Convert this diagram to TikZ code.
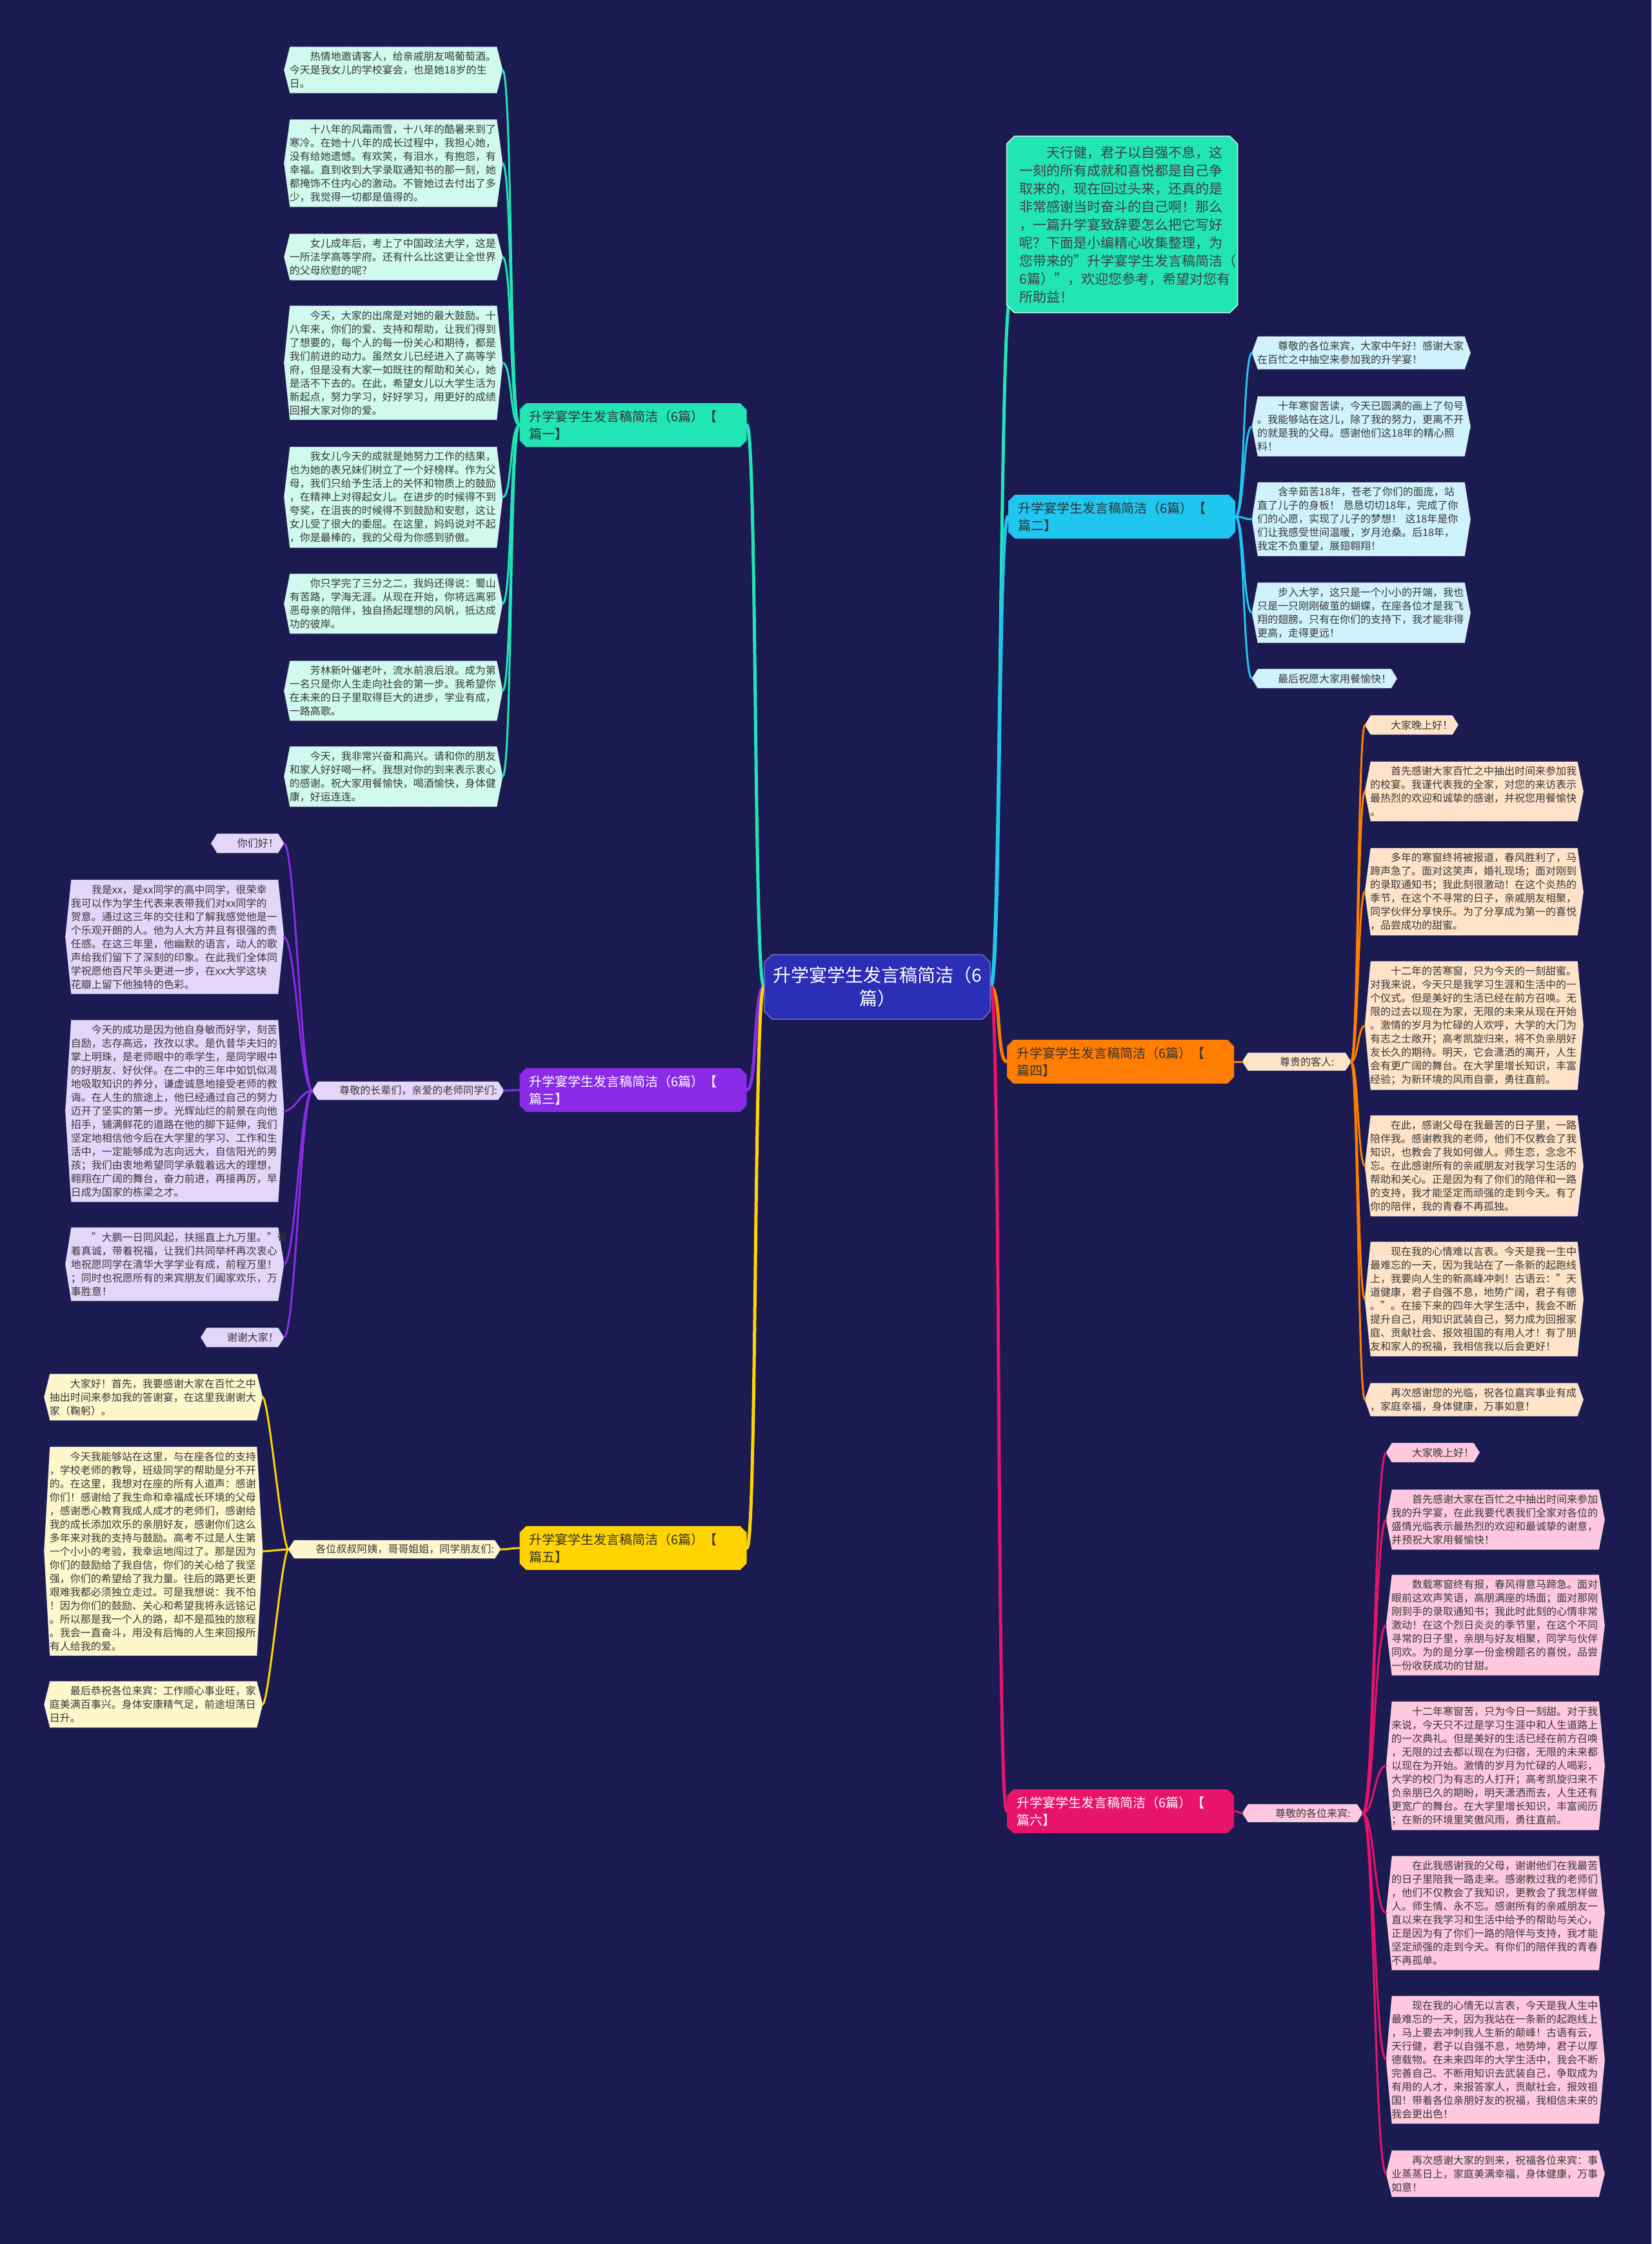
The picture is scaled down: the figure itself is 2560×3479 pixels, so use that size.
\documentclass[tikz,border=0pt]{standalone}
\usepackage{fontspec}
\setmainfont{Noto Sans CJK SC}
\usetikzlibrary{shapes.misc}
\pgfdeclarelayer{bg}
\pgfdeclarelayer{back}
\pgfsetlayers{bg,back,main}
\definecolor{bgc}{HTML}{1B1B52}
\definecolor{cenc}{HTML}{2B2FB5}
\definecolor{tealc}{HTML}{22E5B5}
\definecolor{leafa}{HTML}{D0FAEE}
\definecolor{cyanc}{HTML}{1FC6F0}
\definecolor{leafb}{HTML}{CFF2FD}
\definecolor{purpc}{HTML}{8A2BE8}
\definecolor{leafc}{HTML}{E4D6FA}
\definecolor{yelc}{HTML}{FFD400}
\definecolor{leafe}{HTML}{FFF7CC}
\definecolor{orgc}{HTML}{FF7D00}
\definecolor{leafd}{HTML}{FFE3C8}
\definecolor{magc}{HTML}{E8136B}
\definecolor{leaff}{HTML}{FFC8DE}
\newcommand\ind{\hspace*{2em}}
\newcommand\hexbg[2]{%
  \begin{pgfonlayer}{back}
    \path[#2] (#1.west) -- ([xshift=9pt]#1.north west) -- ([xshift=-9pt]#1.north east)
      -- (#1.east) -- ([xshift=-9pt]#1.south east) -- ([xshift=9pt]#1.south west) -- cycle;
  \end{pgfonlayer}}
\tikzset{
  leafbox/.style={font=\fontsize{16}{21}\selectfont, text=black!78, inner xsep=8pt, inner ysep=7pt, align=left},
  longbox/.style={text width=322pt},
  hexfill/.style={fill=#1, draw=white, densely dotted, line width=1pt},
  branchbox/.style={chamfered rectangle, chamfered rectangle xsep=5pt, chamfered rectangle ysep=5pt,
    font=\fontsize{20}{27}\selectfont, align=left, text width=322pt, inner xsep=10pt, inner ysep=6pt,
    minimum height=66pt, fill=#1},
  centerbox/.style={chamfered rectangle, chamfered rectangle xsep=6pt, chamfered rectangle ysep=6pt,
    fill=cenc, draw=cenc!70!white, line width=1.5pt, text=white, font=\fontsize{28}{36}\selectfont,
    align=center, minimum width=350pt, minimum height=100pt},
  introbox/.style={chamfered rectangle, chamfered rectangle xsep=6pt, chamfered rectangle ysep=6pt,
    fill=tealc, draw=white!70!tealc, line width=1.5pt, text=black!75, font=\fontsize{21}{28}\selectfont,
    align=left, text width=318pt, inner xsep=14pt, inner ysep=9pt},
  midbox/.style={font=\fontsize{16}{21}\selectfont, text=black!78, inner xsep=10pt, inner ysep=6pt},
  mainline/.style={line width=5pt, line cap=round},
  subline/.style={line width=3pt, line cap=round},
}
\begin{document}
\begin{tikzpicture}[x=1pt,y=-1pt]
\useasboundingbox (0,0) rectangle (2560,3479);
\begin{pgfonlayer}{bg}
\fill[bgc] (0,0) rectangle (2560,3479);
\end{pgfonlayer}

% center
\node[centerbox] (cen) at (1360,1530) {升学宴学生发言稿简洁（6\\篇）};

% intro
\node[introbox] (intro) at (1739.5,348) {\ind 天行健，君子以自强不息，这\\一刻的所有成就和喜悦都是自己争\\取来的，现在回过头来，还真的是\\非常感谢当时奋斗的自己啊！那么\\，一篇升学宴致辞要怎么把它写好\\呢？下面是小编精心收集整理，为\\您带来的"升学宴学生发言稿简洁（\\6篇）"，欢迎您参考，希望对您有\\所助益！};
\coordinate (introin) at ([yshift=16pt]intro.south west);

% branches
\node[branchbox=tealc, text=black!80] (b1) at (981.5,659) {升学宴学生发言稿简洁（6篇）【\\篇一】};
\node[branchbox=purpc, text=white] (b3) at (981.5,1690) {升学宴学生发言稿简洁（6篇）【\\篇三】};
\node[branchbox=yelc, text=black!80] (b5) at (981.5,2400) {升学宴学生发言稿简洁（6篇）【\\篇五】};
\node[branchbox=cyanc, text=black!80] (b2) at (1739,801) {升学宴学生发言稿简洁（6篇）【\\篇二】};
\node[branchbox=orgc, text=black!80] (b4) at (1737,1646) {升学宴学生发言稿简洁（6篇）【\\篇四】};
\node[branchbox=magc, text=white] (b6) at (1737,2808) {升学宴学生发言稿简洁（6篇）【\\篇六】};

% mid labels
\node[midbox, anchor=east] (m3) at (781,1691) {\ind 尊敬的长辈们，亲爱的老师同学们:}; \hexbg{m3}{hexfill=leafc}
\node[midbox, anchor=east] (m5) at (776,2402) {\ind 各位叔叔阿姨，哥哥姐姐，同学朋友们:}; \hexbg{m5}{hexfill=leafe}
\node[midbox, anchor=west, minimum width=168pt] (m4) at (1926,1646) {\ind 尊贵的客人:}; \hexbg{m4}{hexfill=leafd}
\node[midbox, anchor=west, minimum width=186pt] (m6) at (1926,2811) {\ind 尊敬的各位来宾:}; \hexbg{m6}{hexfill=leaff}

% branch 1 leaves
\node[leafbox, longbox, anchor=east] (l1) at (779,108.5) {\ind 热情地邀请客人，给亲戚朋友喝葡萄酒。\\今天是我女儿的学校宴会，也是她18岁的生\\日。}; \hexbg{l1}{hexfill=leafa}
\node[leafbox, longbox, anchor=east] (l2) at (779,253) {\ind 十八年的风霜雨雪，十八年的酷暑来到了\\寒冷。在她十八年的成长过程中，我担心她，\\没有给她遗憾。有欢笑，有泪水，有抱怨，有\\幸福。直到收到大学录取通知书的那一刻，她\\都掩饰不住内心的激动。不管她过去付出了多\\少，我觉得一切都是值得的。}; \hexbg{l2}{hexfill=leafa}
\node[leafbox, longbox, anchor=east] (l3) at (779,398.5) {\ind 女儿成年后，考上了中国政法大学，这是\\一所法学高等学府。还有什么比这更让全世界\\的父母欣慰的呢？}; \hexbg{l3}{hexfill=leafa}
\node[leafbox, longbox, anchor=east] (l4) at (779,562.5) {\ind 今天，大家的出席是对她的最大鼓励。十\\八年来，你们的爱、支持和帮助，让我们得到\\了想要的，每个人的每一份关心和期待，都是\\我们前进的动力。虽然女儿已经进入了高等学\\府，但是没有大家一如既往的帮助和关心，她\\是活不下去的。在此，希望女儿以大学生活为\\新起点，努力学习，好好学习，用更好的成绩\\回报大家对你的爱。}; \hexbg{l4}{hexfill=leafa}
\node[leafbox, longbox, anchor=east] (l5) at (779,771) {\ind 我女儿今天的成就是她努力工作的结果，\\也为她的表兄妹们树立了一个好榜样。作为父\\母，我们只给予生活上的关怀和物质上的鼓励\\，在精神上对得起女儿。在进步的时候得不到\\夸奖，在沮丧的时候得不到鼓励和安慰，这让\\女儿受了很大的委屈。在这里，妈妈说对不起\\，你是最棒的，我的父母为你感到骄傲。}; \hexbg{l5}{hexfill=leafa}
\node[leafbox, longbox, anchor=east] (l6) at (779,936) {\ind 你只学完了三分之二，我妈还得说：蜀山\\有苦路，学海无涯。从现在开始，你将远离邪\\恶母亲的陪伴，独自扬起理想的风帆，抵达成\\功的彼岸。}; \hexbg{l6}{hexfill=leafa}
\node[leafbox, longbox, anchor=east] (l7) at (779,1071) {\ind 芳林新叶催老叶，流水前浪后浪。成为第\\一名只是你人生走向社会的第一步。我希望你\\在未来的日子里取得巨大的进步，学业有成，\\一路高歌。}; \hexbg{l7}{hexfill=leafa}
\node[leafbox, longbox, anchor=east] (l8) at (779,1204) {\ind 今天，我非常兴奋和高兴。请和你的朋友\\和家人好好喝一杯。我想对你的到来表示衷心\\的感谢。祝大家用餐愉快，喝酒愉快，身体健\\康，好运连连。}; \hexbg{l8}{hexfill=leafa}

% branch 3 leaves
\node[leafbox, anchor=east] (a1) at (440,1307.5) {\ind 你们好！}; \hexbg{a1}{hexfill=leafc}
\node[leafbox, longbox, anchor=east] (a2) at (440,1452.5) {\ind 我是xx，是xx同学的高中同学，很荣幸\\我可以作为学生代表来表带我们对xx同学的\\贺意。通过这三年的交往和了解我感觉他是一\\个乐观开朗的人。他为人大方并且有很强的责\\任感。在这三年里，他幽默的语言，动人的歌\\声给我们留下了深刻的印象。在此我们全体同\\学祝愿他百尺竿头更进一步，在xx大学这块\\花瓣上留下他独特的色彩。}; \hexbg{a2}{hexfill=leafc}
\node[leafbox, longbox, anchor=east] (a3) at (440,1722.5) {\ind 今天的成功是因为他自身敏而好学，刻苦\\自励，志存高远，孜孜以求。是仇昔华夫妇的\\掌上明珠，是老师眼中的乖学生，是同学眼中\\的好朋友、好伙伴。在二中的三年中如饥似渴\\地吸取知识的养分，谦虚诚恳地接受老师的教\\诲。在人生的旅途上，他已经通过自己的努力\\迈开了坚实的第一步。光辉灿烂的前景在向他\\招手，铺满鲜花的道路在他的脚下延伸，我们\\坚定地相信他今后在大学里的学习、工作和生\\活中，一定能够成为志向远大，自信阳光的男\\孩；我们由衷地希望同学承载着远大的理想，\\翱翔在广阔的舞台，奋力前进，再接再厉，早\\日成为国家的栋梁之才。}; \hexbg{a3}{hexfill=leafc}
\node[leafbox, longbox, anchor=east] (a4) at (440,1960) {\ind "大鹏一日同风起，扶摇直上九万里。"带\\着真诚，带着祝福，让我们共同举杯再次衷心\\地祝愿同学在清华大学学业有成，前程万里！\\；同时也祝愿所有的来宾朋友们阖家欢乐，万\\事胜意！}; \hexbg{a4}{hexfill=leafc}
\node[leafbox, anchor=east] (a5) at (440,2073.5) {\ind 谢谢大家！}; \hexbg{a5}{hexfill=leafc}

% branch 5 leaves
\node[leafbox, longbox, anchor=east] (p1) at (407,2166) {\ind 大家好！首先，我要感谢大家在百忙之中\\抽出时间来参加我的答谢宴，在这里我谢谢大\\家（鞠躬）。}; \hexbg{p1}{hexfill=leafe}
\node[leafbox, longbox, anchor=east] (p2) at (407,2405) {\ind 今天我能够站在这里，与在座各位的支持\\，学校老师的教导，班级同学的帮助是分不开\\的。在这里，我想对在座的所有人道声：感谢\\你们！感谢给了我生命和幸福成长环境的父母\\，感谢悉心教育我成人成才的老师们，感谢给\\我的成长添加欢乐的亲朋好友，感谢你们这么\\多年来对我的支持与鼓励。高考不过是人生第\\一个小小的考验，我幸运地闯过了。那是因为\\你们的鼓励给了我自信，你们的关心给了我坚\\强，你们的希望给了我力量。往后的路更长更\\艰难我都必须独立走过。可是我想说：我不怕\\！因为你们的鼓励、关心和希望我将永远铭记\\。所以那是我一个人的路，却不是孤独的旅程\\。我会一直奋斗，用没有后悔的人生来回报所\\有人给我的爱。}; \hexbg{p2}{hexfill=leafe}
\node[leafbox, longbox, anchor=east] (p3) at (407,2642.5) {\ind 最后恭祝各位来宾：工作顺心事业旺，家\\庭美满百事兴。身体安康精气足，前途坦荡日\\日升。}; \hexbg{p3}{hexfill=leafe}

% branch 2 leaves
\node[leafbox, longbox, anchor=west] (c1) at (1941,547) {\ind 尊敬的各位来宾，大家中午好！感谢大家\\在百忙之中抽空来参加我的升学宴！}; \hexbg{c1}{hexfill=leafb}
\node[leafbox, longbox, anchor=west] (c2) at (1941,661) {\ind 十年寒窗苦读，今天已圆满的画上了句号\\。我能够站在这儿，除了我的努力，更离不开\\的就是我的父母。感谢他们这18年的精心照\\料！}; \hexbg{c2}{hexfill=leafb}
\node[leafbox, longbox, anchor=west] (c3) at (1941,805) {\ind 含辛茹苦18年，苍老了你们的面庞，站\\直了儿子的身板！ 恳恳切切18年，完成了你\\们的心愿，实现了儿子的梦想！ 这18年是你\\们让我感受世间温暖，岁月沧桑。后18年，\\我定不负重望，展翅翱翔！}; \hexbg{c3}{hexfill=leafb}
\node[leafbox, longbox, anchor=west] (c4) at (1941,950) {\ind 步入大学，这只是一个小小的开端，我也\\只是一只刚刚破茧的蝴蝶，在座各位才是我飞\\翔的翅膀。只有在你们的支持下，我才能非得\\更高，走得更远！}; \hexbg{c4}{hexfill=leafb}
\node[leafbox, anchor=west] (c5) at (1941,1052) {\ind 最后祝愿大家用餐愉快！}; \hexbg{c5}{hexfill=leafb}

% branch 4 leaves
\node[leafbox, anchor=west] (d1) at (2116,1124) {\ind 大家晚上好！}; \hexbg{d1}{hexfill=leafd}
\node[leafbox, longbox, anchor=west] (d2) at (2116,1227) {\ind 首先感谢大家百忙之中抽出时间来参加我\\的校宴。我谨代表我的全家，对您的来访表示\\最热烈的欢迎和诚挚的感谢，并祝您用餐愉快\\。}; \hexbg{d2}{hexfill=leafd}
\node[leafbox, longbox, anchor=west] (d3) at (2116,1382.5) {\ind 多年的寒窗终将被报道，春风胜利了，马\\蹄声急了。面对这笑声，婚礼现场；面对刚到\\的录取通知书；我此刻很激动！在这个炎热的\\季节，在这个不寻常的日子，亲戚朋友相聚，\\同学伙伴分享快乐。为了分享成为第一的喜悦\\，品尝成功的甜蜜。}; \hexbg{d3}{hexfill=leafd}
\node[leafbox, longbox, anchor=west] (d4) at (2116,1590) {\ind 十二年的苦寒窗，只为今天的一刻甜蜜。\\对我来说，今天只是我学习生涯和生活中的一\\个仪式。但是美好的生活已经在前方召唤。无\\限的过去以现在为家，无限的未来从现在开始\\。激情的岁月为忙碌的人欢呼，大学的大门为\\有志之士敞开；高考凯旋归来，将不负亲朋好\\友长久的期待。明天，它会潇洒的离开，人生\\会有更广阔的舞台。在大学里增长知识，丰富\\经验；为新环境的风雨自豪，勇往直前。}; \hexbg{d4}{hexfill=leafd}
\node[leafbox, longbox, anchor=west] (d5) at (2116,1807.5) {\ind 在此，感谢父母在我最苦的日子里，一路\\陪伴我。感谢教我的老师，他们不仅教会了我\\知识，也教会了我如何做人。师生恋，念念不\\忘。在此感谢所有的亲戚朋友对我学习生活的\\帮助和关心。正是因为有了你们的陪伴和一路\\的支持，我才能坚定而顽强的走到今天。有了\\你的陪伴，我的青春不再孤独。}; \hexbg{d5}{hexfill=leafd}
\node[leafbox, longbox, anchor=west] (d6) at (2116,2014) {\ind 现在我的心情难以言表。今天是我一生中\\最难忘的一天，因为我站在了一条新的起跑线\\上，我要向人生的新高峰冲刺！古语云："天\\道健康，君子自强不息，地势广阔，君子有德\\。"。在接下来的四年大学生活中，我会不断\\提升自己，用知识武装自己，努力成为回报家\\庭、贡献社会、报效祖国的有用人才！有了朋\\友和家人的祝福，我相信我以后会更好！}; \hexbg{d6}{hexfill=leafd}
\node[leafbox, longbox, anchor=west] (d7) at (2116,2170) {\ind 再次感谢您的光临，祝各位嘉宾事业有成\\，家庭幸福，身体健康，万事如意！}; \hexbg{d7}{hexfill=leafd}

% branch 6 leaves
\node[leafbox, anchor=west] (e1) at (2149,2252) {\ind 大家晚上好！}; \hexbg{e1}{hexfill=leaff}
\node[leafbox, longbox, anchor=west] (e2) at (2149,2356) {\ind 首先感谢大家在百忙之中抽出时间来参加\\我的升学宴，在此我要代表我们全家对各位的\\盛情光临表示最热烈的欢迎和最诚挚的谢意，\\并预祝大家用餐愉快！}; \hexbg{e2}{hexfill=leaff}
\node[leafbox, longbox, anchor=west] (e3) at (2149,2519.5) {\ind 数载寒窗终有报，春风得意马蹄急。面对\\眼前这欢声笑语，高朋满座的场面；面对那刚\\刚到手的录取通知书；我此时此刻的心情非常\\激动！在这个烈日炎炎的季节里，在这个不同\\寻常的日子里，亲朋与好友相聚，同学与伙伴\\同欢。为的是分享一份金榜题名的喜悦，品尝\\一份收获成功的甘甜。}; \hexbg{e3}{hexfill=leaff}
\node[leafbox, longbox, anchor=west] (e4) at (2149,2737.5) {\ind 十二年寒窗苦，只为今日一刻甜。对于我\\来说，今天只不过是学习生涯中和人生道路上\\的一次典礼。但是美好的生活已经在前方召唤\\，无限的过去都以现在为归宿，无限的未来都\\以现在为开始。激情的岁月为忙碌的人喝彩，\\大学的校门为有志的人打开；高考凯旋归来不\\负亲朋已久的期盼，明天潇洒而去，人生还有\\更宽广的舞台。在大学里增长知识，丰富阅历\\；在新的环境里笑傲风雨，勇往直前。}; \hexbg{e4}{hexfill=leaff}
\node[leafbox, longbox, anchor=west] (e5) at (2149,2966) {\ind 在此我感谢我的父母，谢谢他们在我最苦\\的日子里陪我一路走来。感谢教过我的老师们\\，他们不仅教会了我知识，更教会了我怎样做\\人。师生情、永不忘。感谢所有的亲戚朋友一\\直以来在我学习和生活中给予的帮助与关心，\\正是因为有了你们一路的陪伴与支持，我才能\\坚定顽强的走到今天。有你们的陪伴我的青春\\不再孤单。}; \hexbg{e5}{hexfill=leaff}
\node[leafbox, longbox, anchor=west] (e6) at (2149,3193.5) {\ind 现在我的心情无以言表，今天是我人生中\\最难忘的一天，因为我站在一条新的起跑线上\\，马上要去冲刺我人生新的颠峰！古语有云，\\天行健，君子以自强不息，地势坤，君子以厚\\德载物。在未来四年的大学生活中，我会不断\\完善自己、不断用知识去武装自己，争取成为\\有用的人才，来报答家人，贡献社会，报效祖\\国！带着各位亲朋好友的祝福，我相信未来的\\我会更出色！}; \hexbg{e6}{hexfill=leaff}
\node[leafbox, longbox, anchor=west] (e7) at (2149,3370) {\ind 再次感谢大家的到来，祝福各位来宾：事\\业蒸蒸日上，家庭美满幸福，身体健康，万事\\如意！}; \hexbg{e7}{hexfill=leaff}

% connectors
\begin{pgfonlayer}{back}
\draw[mainline, tealc] (cen.west) .. controls ([xshift=-16pt]cen.west) and ([xshift=16pt]b1.east) .. (b1.east);
\draw[mainline, purpc] (cen.west) .. controls ([xshift=-16pt]cen.west) and ([xshift=16pt]b3.east) .. (b3.east);
\draw[mainline, yelc] (cen.west) .. controls ([xshift=-16pt]cen.west) and ([xshift=16pt]b5.east) .. (b5.east);
\draw[mainline, tealc] (cen.east) .. controls ([xshift=16pt]cen.east) and ([xshift=-16pt]introin) .. (introin);
\draw[mainline, cyanc] (cen.east) .. controls ([xshift=16pt]cen.east) and ([xshift=-16pt]b2.west) .. (b2.west);
\draw[mainline, orgc] (cen.east) .. controls ([xshift=16pt]cen.east) and ([xshift=-16pt]b4.west) .. (b4.west);
\draw[mainline, magc] (cen.east) .. controls ([xshift=16pt]cen.east) and ([xshift=-16pt]b6.west) .. (b6.west);

\foreach \n in {l1,l2,l3,l4,l5,l6,l7,l8}
  \draw[subline, tealc] (b1.west) .. controls ([xshift=-15pt]b1.west) and ([xshift=15pt]\n.east) .. (\n.east);
\draw[subline, purpc] (b3.west) .. controls ([xshift=-14pt]b3.west) and ([xshift=14pt]m3.east) .. (m3.east);
\foreach \n in {a1,a2,a3,a4,a5}
  \draw[subline, purpc] (m3.west) .. controls ([xshift=-18pt]m3.west) and ([xshift=18pt]\n.east) .. (\n.east);
\draw[subline, yelc] (b5.west) .. controls ([xshift=-16pt]b5.west) and ([xshift=16pt]m5.east) .. (m5.east);
\foreach \n in {p1,p2,p3}
  \draw[subline, yelc] (m5.west) .. controls ([xshift=-10pt]m5.west) and ([xshift=10pt]\n.east) .. (\n.east);
\foreach \n in {c1,c2,c3,c4,c5}
  \draw[subline, cyanc] (b2.east) .. controls ([xshift=14pt]b2.east) and ([xshift=-14pt]\n.west) .. (\n.west);
\draw[subline, orgc] (b4.east) .. controls ([xshift=9pt]b4.east) and ([xshift=-9pt]m4.west) .. (m4.west);
\foreach \n in {d1,d2,d3,d4,d5,d6,d7}
  \draw[subline, orgc] (m4.east) .. controls ([xshift=11pt]m4.east) and ([xshift=-11pt]\n.west) .. (\n.west);
\draw[subline, magc] (b6.east) .. controls ([xshift=9pt]b6.east) and ([xshift=-9pt]m6.west) .. (m6.west);
\foreach \n in {e1,e2,e3,e4,e5,e6,e7}
  \draw[subline, magc] (m6.east) .. controls ([xshift=18pt]m6.east) and ([xshift=-18pt]\n.west) .. (\n.west);
\end{pgfonlayer}
\end{tikzpicture}
\end{document}
